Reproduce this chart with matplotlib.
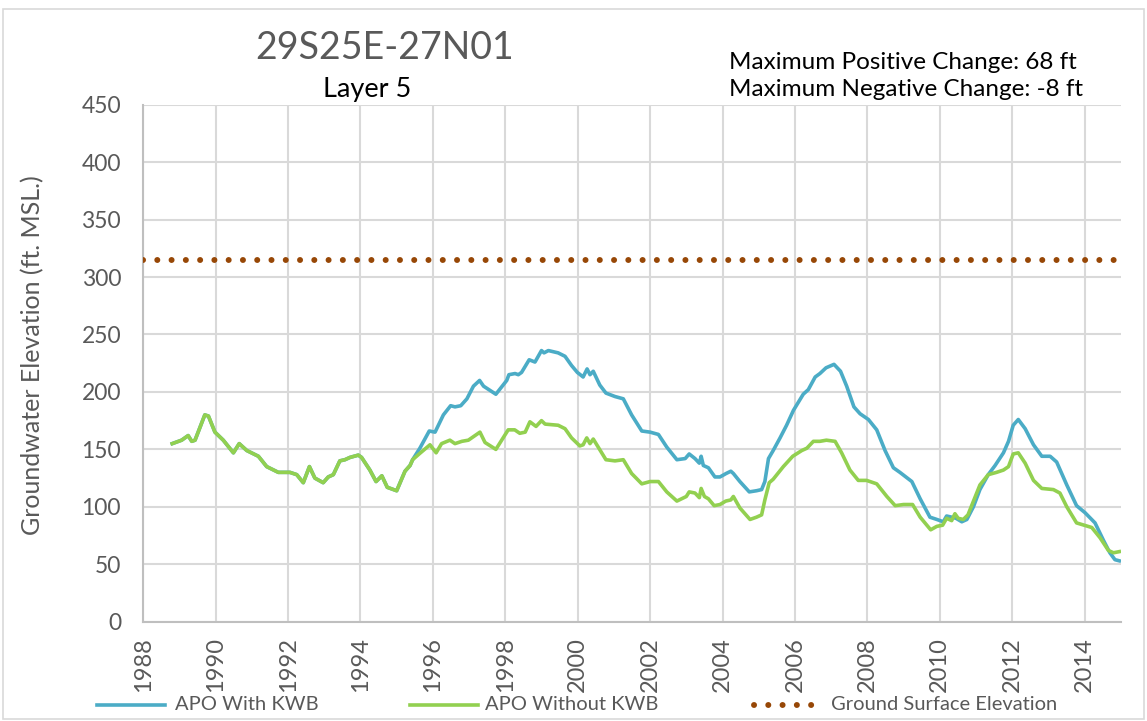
import matplotlib
matplotlib.use("Agg")
import matplotlib.pyplot as plt
from matplotlib.lines import Line2D
from matplotlib.patches import Rectangle

plt.rcParams['font.family'] = ['Lato', 'DejaVu Sans']

# data (decimal years, ft MSL)
shared_years = [1988.80, 1989.06, 1989.24, 1989.34, 1989.43, 1989.70, 1989.80, 1989.98,
                1990.21, 1990.49, 1990.65, 1990.86, 1991.18, 1991.41, 1991.73, 1992.05,
                1992.24, 1992.42, 1992.59, 1992.74, 1992.97, 1993.11, 1993.25, 1993.43,
                1993.57, 1993.71, 1993.94, 1994.03, 1994.26, 1994.43, 1994.59, 1994.74,
                1995.00, 1995.23, 1995.37, 1995.44]
shared_vals = [155, 158, 162, 157, 158, 180, 179, 165,
               158, 147, 155, 149, 144, 135, 130, 130,
               128, 121, 135, 125, 121, 126, 128, 140,
               141, 143, 145, 143, 132, 122, 127, 117,
               114, 131, 136, 141]

with_years = [1995.64, 1995.90, 1996.06, 1996.29, 1996.49, 1996.61, 1996.77, 1996.94,
              1997.12, 1997.29, 1997.40, 1997.74, 1998.04, 1998.10, 1998.27, 1998.36,
              1998.45, 1998.66, 1998.82, 1998.91, 1999.00, 1999.07, 1999.19, 1999.46,
              1999.65, 1999.83, 1999.99, 2000.15, 2000.26, 2000.34, 2000.43, 2000.61,
              2000.78, 2001.03, 2001.26, 2001.49, 2001.77, 2002.00, 2002.23, 2002.46,
              2002.74, 2002.97, 2003.08, 2003.24, 2003.36, 2003.41, 2003.47, 2003.61,
              2003.79, 2003.93, 2004.10, 2004.23, 2004.30, 2004.48, 2004.74, 2004.94,
              2005.08, 2005.17, 2005.27, 2005.40, 2005.59, 2005.77, 2005.96, 2006.23,
              2006.37, 2006.56, 2006.69, 2006.86, 2007.08, 2007.26, 2007.43, 2007.63,
              2007.80, 2008.03, 2008.26, 2008.49, 2008.72, 2008.90, 2009.23, 2009.46,
              2009.73, 2009.92, 2010.10, 2010.19, 2010.33, 2010.45, 2010.61, 2010.75,
              2010.93, 2011.11, 2011.34, 2011.53, 2011.76, 2011.90, 2012.03, 2012.17,
              2012.36, 2012.59, 2012.82, 2013.05, 2013.23, 2013.51, 2013.78, 2014.01,
              2014.29, 2014.52, 2014.70, 2014.84, 2014.96]
with_vals = [151, 166, 165, 180, 188, 187, 188, 194,
             205, 210, 205, 198, 210, 215, 216, 215,
             217, 228, 226, 231, 236, 234, 236, 234,
             231, 223, 217, 213, 220, 215, 218, 206,
             199, 196, 194, 180, 166, 165, 163, 152,
             141, 142, 146, 142, 138, 144, 136, 134,
             126, 126, 129, 131, 129, 122, 113, 114,
             115, 122, 142, 149, 160, 171, 184, 198,
             202, 213, 216, 221, 224, 218, 205, 187,
             181, 176, 167, 149, 134, 130, 122, 107,
             91, 89, 87, 92, 91, 90, 87, 89,
             100, 115, 128, 136, 147, 157, 171, 176,
             168, 154, 144, 144, 139, 119, 101, 95,
             86, 71, 60, 54, 53]

without_years = [1995.62, 1995.92, 1996.09, 1996.24, 1996.47, 1996.61, 1996.80, 1996.98,
                 1997.30, 1997.44, 1997.74, 1998.08, 1998.26, 1998.40, 1998.55, 1998.68,
                 1998.85, 1999.00, 1999.10, 1999.46, 1999.65, 1999.83, 2000.06, 2000.15,
                 2000.25, 2000.34, 2000.43, 2000.78, 2001.03, 2001.26, 2001.49, 2001.77,
                 2002.00, 2002.23, 2002.46, 2002.74, 2003.00, 2003.08, 2003.24, 2003.36,
                 2003.41, 2003.50, 2003.61, 2003.77, 2003.93, 2004.09, 2004.23, 2004.30,
                 2004.48, 2004.76, 2004.94, 2005.08, 2005.17, 2005.29, 2005.40, 2005.68,
                 2005.94, 2006.19, 2006.33, 2006.51, 2006.69, 2006.87, 2007.11, 2007.29,
                 2007.52, 2007.75, 2007.98, 2008.26, 2008.54, 2008.77, 2009.00, 2009.25,
                 2009.46, 2009.75, 2009.92, 2010.08, 2010.19, 2010.33, 2010.42, 2010.51,
                 2010.65, 2010.78, 2011.11, 2011.34, 2011.57, 2011.76, 2011.90, 2012.03,
                 2012.17, 2012.36, 2012.59, 2012.82, 2013.14, 2013.32, 2013.51, 2013.78,
                 2014.20, 2014.43, 2014.66, 2014.80, 2014.96]
without_vals = [146, 154, 147, 155, 158, 155, 157, 158,
                165, 156, 150, 167, 167, 164, 165, 174,
                170, 175, 172, 171, 168, 160, 153, 154,
                160, 155, 159, 141, 140, 141, 129, 120,
                122, 122, 113, 105, 109, 113, 112, 108,
                116, 109, 107, 101, 102, 105, 106, 109,
                99, 89, 91, 93, 106, 121, 124, 135,
                144, 149, 151, 157, 157, 158, 157, 147,
                132, 123, 123, 120, 109, 101, 102, 102,
                91, 80, 83, 84, 90, 88, 94, 90,
                89, 93, 119, 128, 130, 132, 135, 146,
                147, 138, 123, 116, 115, 112, 100, 86,
                82, 73, 62, 60, 61]

ground_surface = 315
x_ticks = list(range(1988, 2016, 2))
y_ticks = list(range(0, 451, 50))
series_names = ['APO With KWB', 'APO Without KWB', 'Ground Surface Elevation']

blue = '#4BACC6'
green = '#92D050'
brown = '#974706'
grid_c = '#D9D9D9'
txt_c = '#595959'
dots = (0, (0.01, 2.38))

fig = plt.figure(figsize=(11.47, 7.21), dpi=100)
ax = fig.add_axes([0.1249, 0.1377, 0.8522, 0.7171])

ax.plot(shared_years + with_years, shared_vals + with_vals, color=blue, lw=2.6,
        solid_joinstyle='round', zorder=3)
ax.plot(shared_years + without_years, shared_vals + without_vals, color=green, lw=2.6,
        solid_joinstyle='round', zorder=4)
ax.plot([1988, 2015], [ground_surface, ground_surface], color=brown, lw=4.3,
        linestyle=dots, dash_capstyle='round', zorder=5)

ax.set_xlim(1988, 2015)
ax.set_ylim(0, 450)
ax.set_xticks(x_ticks)
ax.set_xticklabels([str(t) for t in x_ticks], rotation=90)
ax.set_yticks(y_ticks)
ax.grid(True, color=grid_c, lw=1.5)
ax.set_axisbelow(True)
for s in ['top', 'right']:
    ax.spines[s].set_visible(False)
for s in ['left', 'bottom']:
    ax.spines[s].set_color('#BFBFBF')
    ax.spines[s].set_linewidth(1.5)
ax.tick_params(axis='both', length=0, colors=txt_c)
ax.tick_params(axis='x', pad=11, labelsize=17)
ax.tick_params(axis='y', pad=16, labelsize=16.5)
ax.set_ylabel('Groundwater Elevation (ft. MSL.)', color=txt_c, fontsize=18, va='center')
ax.yaxis.set_label_coords(-0.113, 0.516)

fig.text(0.335, 0.934, '29S25E-27N01', ha='center', va='center', fontsize=27, color=txt_c)
fig.text(0.320, 0.876, 'Layer 5', ha='center', va='center', fontsize=19.5, color='black')
fig.text(0.636, 0.914, 'Maximum Positive Change: 68 ft', ha='left', va='center',
         fontsize=17.5, color='black')
fig.text(0.636, 0.876, 'Maximum Negative Change: -8 ft', ha='left', va='center',
         fontsize=17.5, color='black')

# legend drawn by hand so the entries sit where the original has them
leg_y = 0.0222
leg_items = [(blue, '-', 2.6, 0.0846, 0.1439, 0.1526),
             (green, '-', 2.6, 0.3575, 0.4167, 0.4228),
             (brown, dots, 4.3, 0.6574, 0.7105, 0.7245)]
for (c, ls, lw, x0, x1, xt), name in zip(leg_items, series_names):
    fig.add_artist(Line2D([x0, x1], [leg_y, leg_y], transform=fig.transFigure, color=c,
                          lw=lw, linestyle=ls, dash_capstyle='round'))
    fig.text(xt, leg_y, name, ha='left', va='center', fontsize=14.5, color=txt_c)

fig.patches.append(Rectangle((0.003, 0.003), 0.994, 0.985, transform=fig.transFigure,
                             fill=False, edgecolor='#D9D9D9', lw=1.2))

fig.savefig('out.png', dpi=100)
